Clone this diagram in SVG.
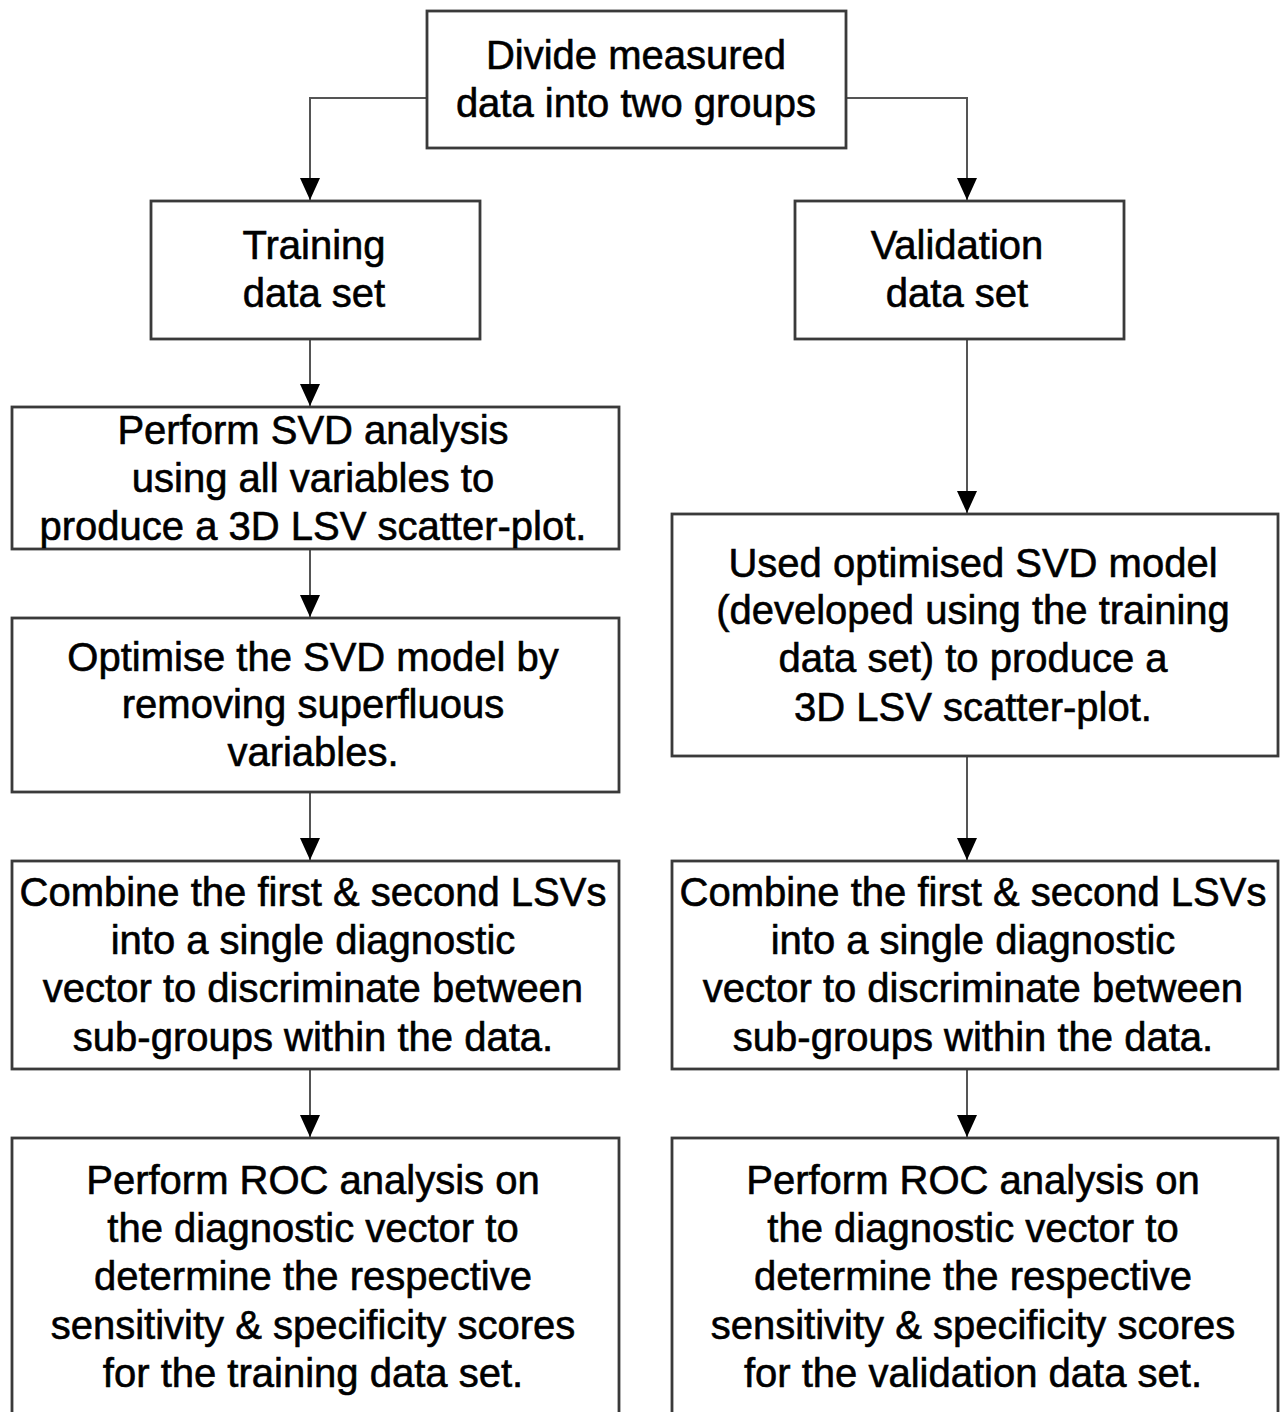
<svg xmlns="http://www.w3.org/2000/svg" width="1282" height="1412" viewBox="0 0 1282 1412">
<defs>
<style>
.box{fill:#fff;stroke:#3a3a3a;stroke-width:2.8}
.t{font-family:"Liberation Sans",Arial,sans-serif;font-size:40px;fill:#000;stroke:#000;stroke-width:0.6;text-anchor:middle}
.c{fill:none;stroke:#555;stroke-width:2}
</style>
<marker id="ah" viewBox="0 0 22 20" refX="22" refY="10" markerWidth="22" markerHeight="20" markerUnits="userSpaceOnUse" orient="auto">
<path d="M0,0 L22,10 L0,20 z" fill="#000"/>
</marker>
</defs>
<rect width="1282" height="1412" fill="#fff"/>
<g id="connectors">
<polyline class="c" points="427,98 310,98 310,200" marker-end="url(#ah)"/>
<polyline class="c" points="846,98 967,98 967,200" marker-end="url(#ah)"/>
<line class="c" x1="310" y1="339" x2="310" y2="406" marker-end="url(#ah)"/>
<line class="c" x1="310" y1="549" x2="310" y2="617" marker-end="url(#ah)"/>
<line class="c" x1="310" y1="792" x2="310" y2="860" marker-end="url(#ah)"/>
<line class="c" x1="310" y1="1069" x2="310" y2="1137" marker-end="url(#ah)"/>
<line class="c" x1="967" y1="339" x2="967" y2="513" marker-end="url(#ah)"/>
<line class="c" x1="967" y1="756" x2="967" y2="860" marker-end="url(#ah)"/>
<line class="c" x1="967" y1="1069" x2="967" y2="1137" marker-end="url(#ah)"/>
</g>
<g id="divide">
<rect class="box" x="427" y="11" width="419" height="137"/>
<text class="t" x="636" y="69">Divide measured</text>
<text class="t" x="636" y="117">data into two groups</text>
</g>
<g id="training">
<rect class="box" x="151" y="201" width="329" height="138"/>
<text class="t" x="314" y="259">Training</text>
<text class="t" x="314" y="307">data set</text>
</g>
<g id="validation">
<rect class="box" x="795" y="201" width="329" height="138"/>
<text class="t" x="957" y="259">Validation</text>
<text class="t" x="957" y="307">data set</text>
</g>
<g id="svd">
<rect class="box" x="12" y="407" width="607" height="142"/>
<text class="t" x="313" y="444">Perform SVD analysis</text>
<text class="t" x="313" y="492">using all variables to</text>
<text class="t" x="313" y="540">produce a 3D LSV scatter-plot.</text>
</g>
<g id="optimise">
<rect class="box" x="12" y="618" width="607" height="174"/>
<text class="t" x="313" y="671">Optimise the SVD model by</text>
<text class="t" x="313" y="718">removing superfluous</text>
<text class="t" x="313" y="766">variables.</text>
</g>
<g id="used">
<rect class="box" x="672" y="514" width="606" height="242"/>
<text class="t" x="973" y="577">Used optimised SVD model</text>
<text class="t" x="973" y="624">(developed using the training</text>
<text class="t" x="973" y="672">data set) to produce a</text>
<text class="t" x="973" y="721">3D LSV scatter-plot.</text>
</g>
<g id="combine-left">
<rect class="box" x="12" y="861" width="607" height="208"/>
<text class="t" x="313" y="906">Combine the first &amp; second LSVs</text>
<text class="t" x="313" y="954">into a single diagnostic</text>
<text class="t" x="313" y="1002">vector to discriminate between</text>
<text class="t" x="313" y="1051">sub-groups within the data.</text>
</g>
<g id="combine-right">
<rect class="box" x="672" y="861" width="606" height="208"/>
<text class="t" x="973" y="906">Combine the first &amp; second LSVs</text>
<text class="t" x="973" y="954">into a single diagnostic</text>
<text class="t" x="973" y="1002">vector to discriminate between</text>
<text class="t" x="973" y="1051">sub-groups within the data.</text>
</g>
<g id="roc-left">
<rect class="box" x="12" y="1138" width="607" height="300"/>
<text class="t" x="313" y="1194">Perform ROC analysis on</text>
<text class="t" x="313" y="1242">the diagnostic vector to</text>
<text class="t" x="313" y="1290">determine the respective</text>
<text class="t" x="313" y="1339">sensitivity &amp; specificity scores</text>
<text class="t" x="313" y="1387">for the training data set.</text>
</g>
<g id="roc-right">
<rect class="box" x="672" y="1138" width="606" height="300"/>
<text class="t" x="973" y="1194">Perform ROC analysis on</text>
<text class="t" x="973" y="1242">the diagnostic vector to</text>
<text class="t" x="973" y="1290">determine the respective</text>
<text class="t" x="973" y="1339">sensitivity &amp; specificity scores</text>
<text class="t" x="973" y="1387">for the validation data set.</text>
</g>
</svg>
